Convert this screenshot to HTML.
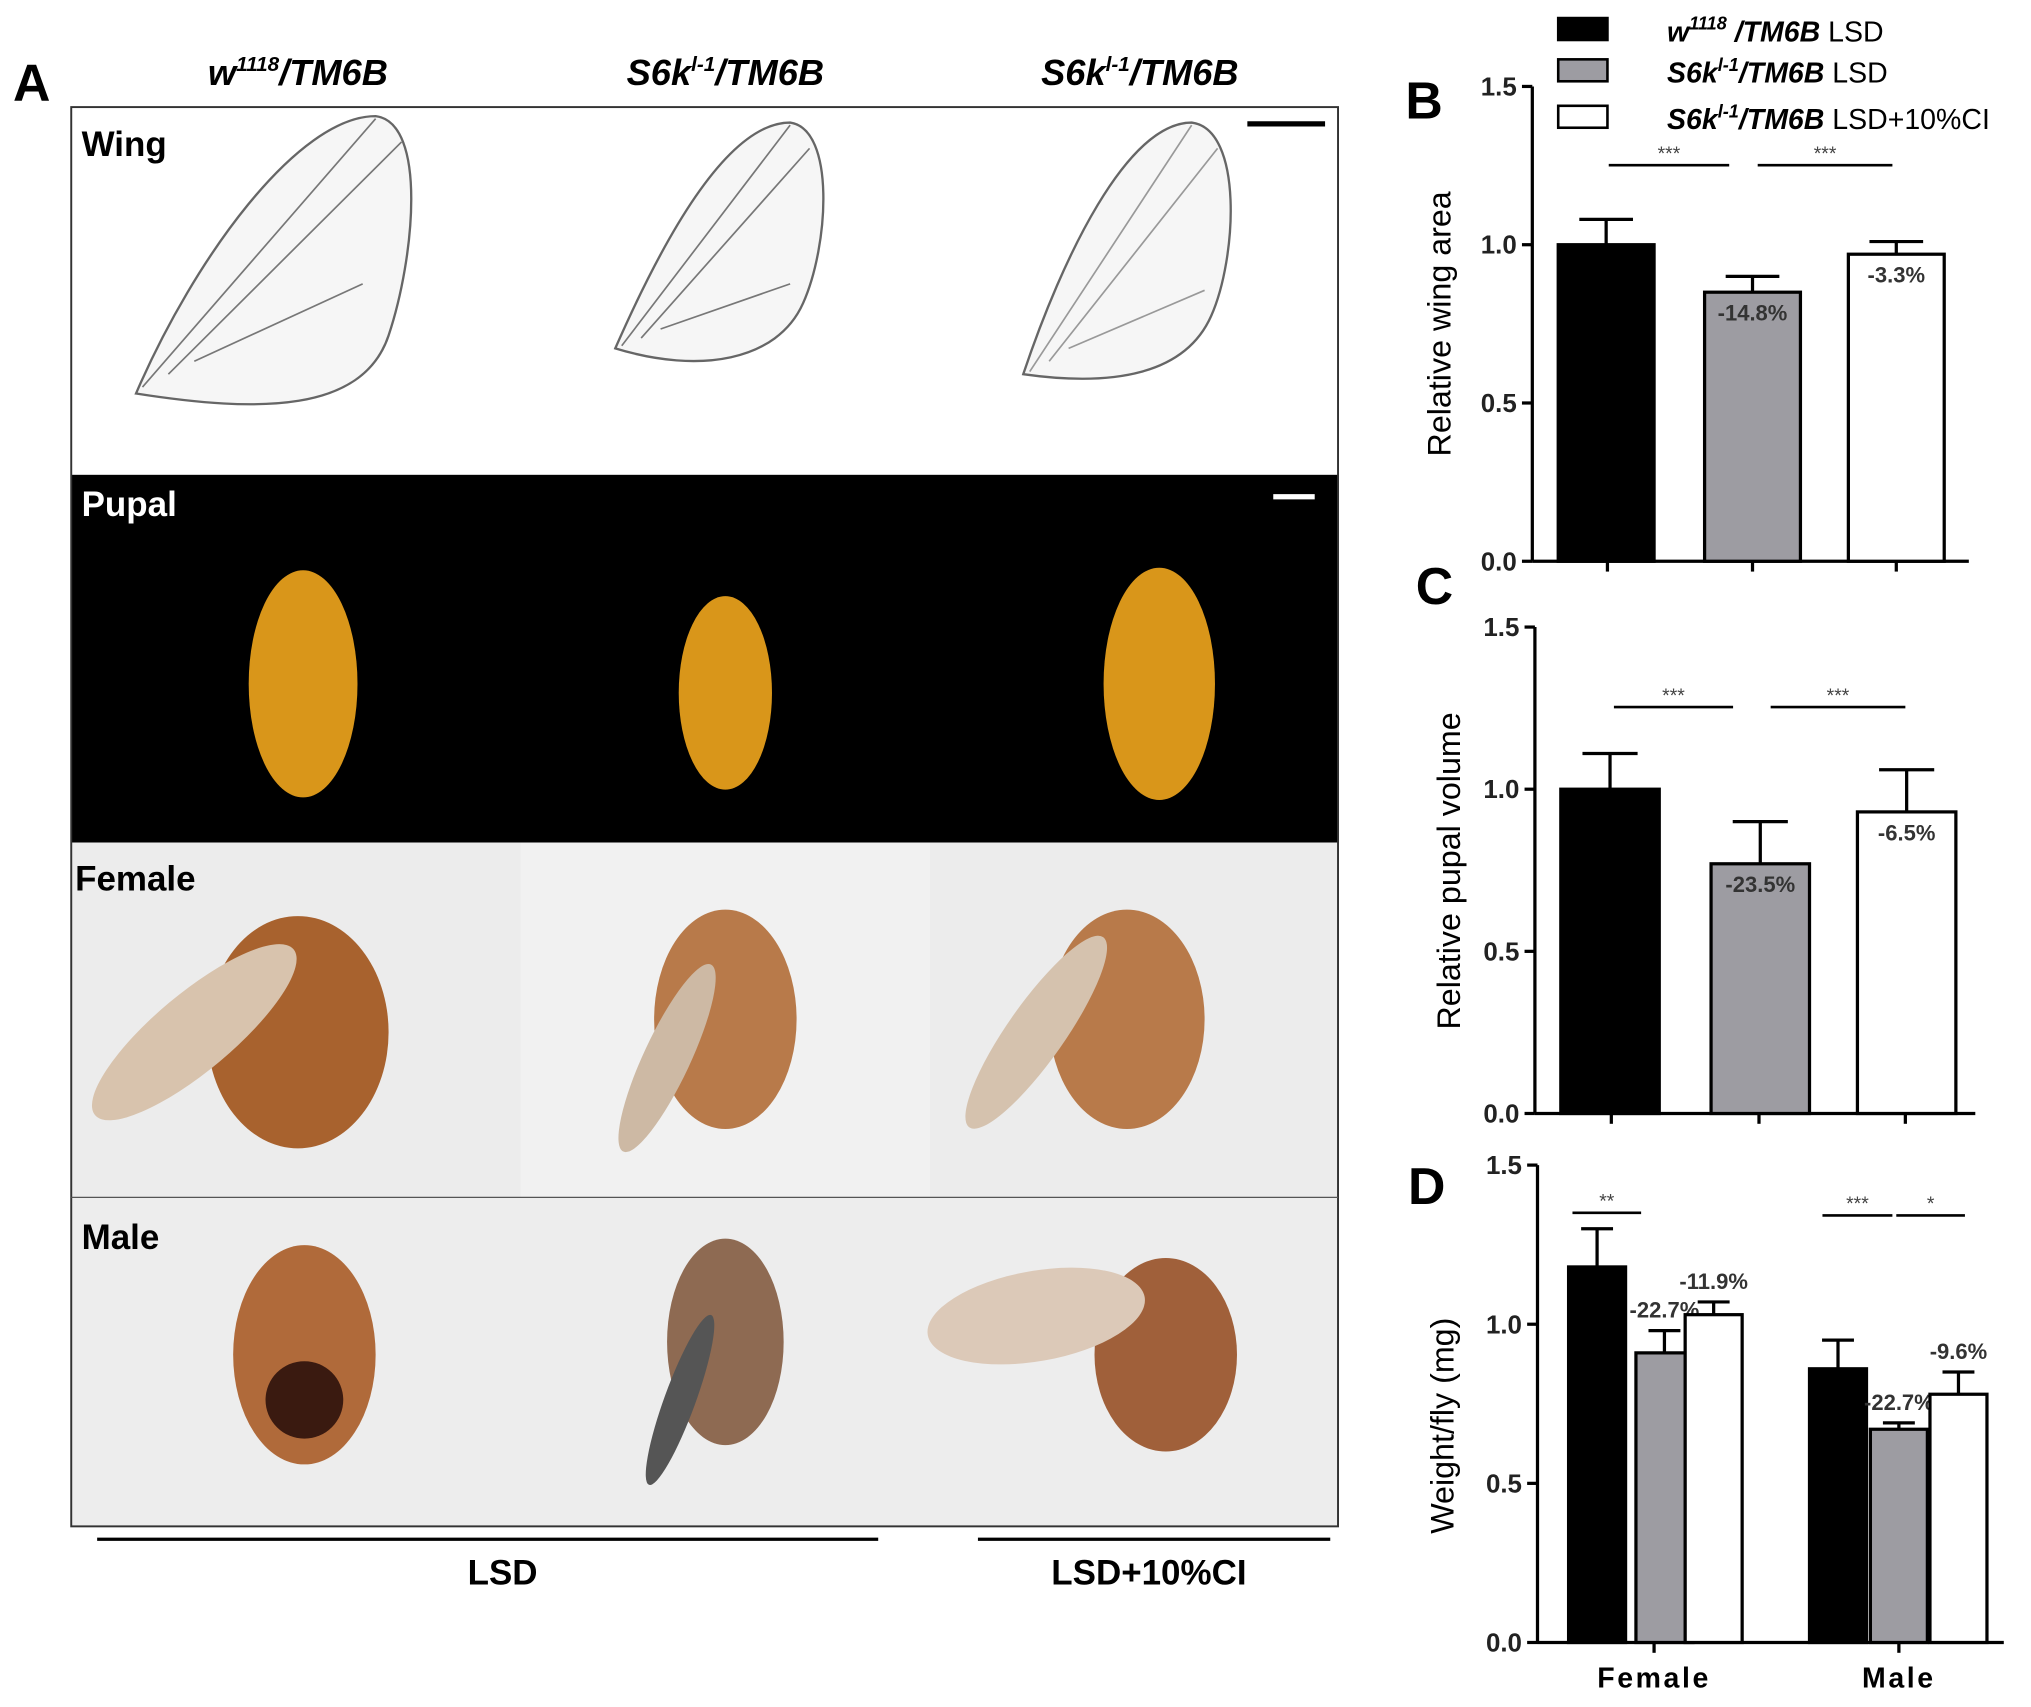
<!DOCTYPE html>
<html><head><meta charset="utf-8"><style>
html,body{margin:0;padding:0;background:#fff;}
svg{display:block;}
text{font-family:"Liberation Sans",Arial,sans-serif;}
</style></head><body>
<svg id="fig" width="2031" height="1707" viewBox="0 0 1568 1323" preserveAspectRatio="none" xmlns="http://www.w3.org/2000/svg">
<rect width="1568" height="1323" fill="#fff"/>
<g>
<text x="10" y="78" font-size="40" font-weight="bold">A</text>
<text x="230" y="66" font-size="28" font-weight="bold" font-style="italic" text-anchor="middle">w<tspan font-size="16" dy="-11">1118</tspan><tspan dy="11">/TM6B</tspan></text>
<text x="560" y="66" font-size="28" font-weight="bold" font-style="italic" text-anchor="middle">S6k<tspan font-size="16" dy="-11">l-1</tspan><tspan dy="11">/TM6B</tspan></text>
<text x="880" y="66" font-size="28" font-weight="bold" font-style="italic" text-anchor="middle">S6k<tspan font-size="16" dy="-11">l-1</tspan><tspan dy="11">/TM6B</tspan></text>
<rect x="55" y="83" width="978" height="285" fill="#fff"/>
<g fill="#f6f6f6" stroke="#666" stroke-width="1.8">
<path d="M105 305 C150 200 230 90 290 90 C330 95 320 200 300 260 C280 320 200 320 105 305Z"/>
<path d="M475 270 C510 190 560 95 610 95 C645 100 640 190 620 235 C600 280 540 290 475 270Z"/>
<path d="M790 290 C820 200 870 95 920 95 C960 100 955 200 935 245 C915 290 860 300 790 290Z"/>
<path d="M110 300 L290 92 M130 290 L310 110 M150 280 L280 220" fill="none" stroke="#777" stroke-width="1.3"/>
<path d="M480 268 L610 97 M495 262 L625 115 M510 255 L610 220" fill="none" stroke="#777" stroke-width="1.3"/>
<path d="M795 288 L920 97 M810 280 L940 115 M825 270 L930 225" fill="none" stroke="#999" stroke-width="1.3"/>
</g>
<line x1="963" y1="96" x2="1023" y2="96" stroke="#000" stroke-width="4"/>
<text x="63" y="121" font-size="27" font-weight="bold">Wing</text>
<rect x="55" y="368" width="978" height="285" fill="#000"/>
<g fill="#d9961a">
<ellipse cx="234" cy="530" rx="42" ry="88"/>
<ellipse cx="560" cy="537" rx="36" ry="75"/>
<ellipse cx="895" cy="530" rx="43" ry="90"/>
</g>
<line x1="983" y1="385" x2="1015" y2="385" stroke="#fff" stroke-width="4"/>
<text x="63" y="400" font-size="27" font-weight="bold" fill="#fff">Pupal</text>
<rect x="55" y="653" width="978" height="275" fill="#ececec"/>
<rect x="402" y="653" width="316" height="275" fill="#f1f1f1"/>
<g>
<ellipse cx="230" cy="800" rx="70" ry="90" fill="#a8622e"/><ellipse cx="150" cy="800" rx="100" ry="30" transform="rotate(-40 150 800)" fill="#d8c3ad"/>
<ellipse cx="560" cy="790" rx="55" ry="85" fill="#b87a4a"/><ellipse cx="515" cy="820" rx="80" ry="18" transform="rotate(-65 515 820)" fill="#cdb9a4"/>
<ellipse cx="870" cy="790" rx="60" ry="85" fill="#b87a4a"/><ellipse cx="800" cy="800" rx="90" ry="22" transform="rotate(-55 800 800)" fill="#d5c2ae"/>
</g>
<text x="58" y="690" font-size="27" font-weight="bold">Female</text>
<rect x="55" y="928" width="978" height="255" fill="#ededed"/>
<g>
<ellipse cx="235" cy="1050" rx="55" ry="85" fill="#b06a3a"/><ellipse cx="235" cy="1085" rx="30" ry="30" fill="#3a1a10"/>
<ellipse cx="560" cy="1040" rx="45" ry="80" fill="#8e6a52"/><ellipse cx="525" cy="1085" rx="70" ry="12" transform="rotate(-70 525 1085)" fill="#555"/>
<ellipse cx="900" cy="1050" rx="55" ry="75" fill="#a0603a"/><ellipse cx="800" cy="1020" rx="85" ry="35" transform="rotate(-10 800 1020)" fill="#dcc9b8"/>
</g>
<text x="63" y="968" font-size="27" font-weight="bold">Male</text>
<rect x="55" y="83" width="978" height="1100" fill="none" stroke="#333" stroke-width="1.5"/>
<line x1="55" y1="928" x2="1033" y2="928" stroke="#555" stroke-width="1"/>
<line x1="75" y1="1193" x2="678" y2="1193" stroke="#000" stroke-width="2.5"/>
<line x1="755" y1="1193" x2="1027" y2="1193" stroke="#000" stroke-width="2.5"/>
<text x="388" y="1228" font-size="27" font-weight="bold" text-anchor="middle">LSD</text>
<text x="887" y="1228" font-size="27" font-weight="bold" text-anchor="middle">LSD+10%CI</text>
</g>
<g>
<rect x="1203" y="14" width="38" height="17" fill="#000" stroke="#000" stroke-width="2"/>
<text x="1287" y="32" font-size="22"><tspan font-weight="bold" font-style="italic">w<tspan font-size="14" dy="-9">1118</tspan><tspan dy="9"> /TM6B</tspan></tspan> LSD</text>
<rect x="1203" y="46" width="38" height="17" fill="#9d9ca2" stroke="#000" stroke-width="2"/>
<text x="1287" y="64" font-size="22"><tspan font-weight="bold" font-style="italic">S6k<tspan font-size="14" dy="-9">l-1</tspan><tspan dy="9">/TM6B</tspan></tspan> LSD</text>
<rect x="1203" y="82" width="38" height="17" fill="#fff" stroke="#000" stroke-width="2"/>
<text x="1287" y="100" font-size="22"><tspan font-weight="bold" font-style="italic">S6k<tspan font-size="14" dy="-9">l-1</tspan><tspan dy="9">/TM6B</tspan></tspan> LSD+10%CI</text>
</g>
<g id="charts"></g>
</svg>
<script>
// Chart B: relative wing area
const bValues = [1.0, 0.85, 0.97];
const bErrors = [0.08, 0.05, 0.04];
const bLabels = ["", "-14.8%", "-3.3%"];
// Chart C: relative pupal volume
const cValues = [1.0, 0.77, 0.93];
const cErrors = [0.11, 0.13, 0.13];
const cLabels = ["", "-23.5%", "-6.5%"];
// Chart D: weight per fly
const dCategories = ["Female", "Male"];
const dFemale = [1.18, 0.91, 1.03];
const dFemaleErr = [0.12, 0.07, 0.04];
const dMale = [0.86, 0.67, 0.78];
const dMaleErr = [0.09, 0.02, 0.07];
const dFemaleLabels = ["", "-22.7%", "-11.9%"];
const dMaleLabels = ["", "-22.7%", "-9.6%"];
const yTicks = [0.0, 0.5, 1.0, 1.5];
const tickLabels = ["0.0", "0.5", "1.0", "1.5"];
const fills = ["#000", "#9d9ca2", "#fff"];

const NS = "http://www.w3.org/2000/svg";
const root = document.getElementById("charts");
function el(tag, attrs, parent) {
  const e = document.createElementNS(NS, tag);
  for (const k in attrs) e.setAttribute(k, attrs[k]);
  (parent || root).appendChild(e);
  return e;
}
function makeAxis(g, x0, yTop, yBot, xEnd) {
  const y = v => yBot - (yBot - yTop) * v / 1.5;
  el("line", {x1: x0, y1: yTop, x2: x0, y2: yBot, stroke: "#000", "stroke-width": 2.5}, g);
  el("line", {x1: x0, y1: yBot, x2: xEnd, y2: yBot, stroke: "#000", "stroke-width": 2.5}, g);
  yTicks.forEach((t, i) => {
    el("line", {x1: x0 - 8, y1: y(t), x2: x0, y2: y(t), stroke: "#000", "stroke-width": 2.5}, g);
    const tx = el("text", {x: x0 - 12, y: y(t) + 7, "font-size": 20, "font-weight": "bold", "text-anchor": "end", fill: "#222"}, g);
    tx.textContent = tickLabels[i];
    
    
  });
  return y;
}
function drawBar(g, y, xl, w, v, e, fill, label, labelAbove) {
  const r = el("rect", {x: xl, y: y(v), width: w, height: y(0) - y(v), fill: fill, stroke: "#000", "stroke-width": 2.5}, g);
  
  
  const cx = xl + w / 2;
  el("line", {x1: cx, y1: y(v), x2: cx, y2: y(v + e), stroke: "#000", "stroke-width": 2.5}, g);
  el("line", {x1: cx - w * 0.28, y1: y(v + e), x2: cx + w * 0.28, y2: y(v + e), stroke: "#000", "stroke-width": 2.5}, g);
  if (label) {
    const t = el("text", {x: cx, y: labelAbove ? y(v + e) - 10 : y(v) + 22, "font-size": 17, "font-weight": "bold", "text-anchor": "middle", fill: "#333"}, g);
    t.textContent = label;
    
    
  }
}
function sig(g, x1, x2, yy, s) {
  el("line", {x1: x1, y1: yy, x2: x2, y2: yy, stroke: "#000", "stroke-width": 2}, g);
  const t = el("text", {x: (x1 + x2) / 2, y: yy - 4, "font-size": 15, "text-anchor": "middle", fill: "#444"}, g);
  t.textContent = s;
  
  
}
function panelLetter(g, txt, x, yy) {
  const t = el("text", {x: x, y: yy, "font-size": 40, "font-weight": "bold"}, g);
  t.textContent = txt;
  
  
}
function yTitle(g, txt, x, yy) {
  const t = el("text", {x: x, y: yy, "font-size": 25, "text-anchor": "middle", transform: "rotate(-90 " + x + " " + yy + ")"}, g);
  t.textContent = txt;
  
  
}

const gB = el("g", {});


panelLetter(gB, "B", 1085, 92);
yTitle(gB, "Relative wing area", 1120, 251);
const yB = makeAxis(gB, 1183, 67, 435, 1520);
const bX = [1203, 1316, 1427];
bValues.forEach((v, i) => drawBar(gB, yB, bX[i], 74, v, bErrors[i], fills[i], bLabels[i], false));
[1241, 1353, 1464].forEach(x => el("line", {x1: x, y1: 435, x2: x, y2: 443, stroke: "#000", "stroke-width": 2.5}, gB));
sig(gB, 1242, 1335, 128, "***");
sig(gB, 1357, 1461, 128, "***");

const gC = el("g", {});


panelLetter(gC, "C", 1093, 468);
yTitle(gC, "Relative pupal volume", 1127, 675);
const yC = makeAxis(gC, 1185, 486, 863, 1525);
const cX = [1205, 1321, 1434];
cValues.forEach((v, i) => drawBar(gC, yC, cX[i], 76, v, cErrors[i], fills[i], cLabels[i], false));
[1244, 1358, 1471].forEach(x => el("line", {x1: x, y1: 863, x2: x, y2: 871, stroke: "#000", "stroke-width": 2.5}, gC));
sig(gC, 1246, 1338, 548, "***");
sig(gC, 1367, 1471, 548, "***");

const gD = el("g", {});


panelLetter(gD, "D", 1087, 933);
yTitle(gD, "Weight/fly (mg)", 1122, 1105);
const yD = makeAxis(gD, 1187, 903, 1273, 1547);
const fX = [1211, 1263, 1301], mX = [1397, 1444, 1490], bw = 44;
dFemale.forEach((v, i) => drawBar(gD, yD, fX[i], bw, v, dFemaleErr[i], fills[i], dFemaleLabels[i], true));
dMale.forEach((v, i) => drawBar(gD, yD, mX[i], bw, v, dMaleErr[i], fills[i], dMaleLabels[i], true));
const catX = [1277, 1466];
dCategories.forEach((c, i) => {
  el("line", {x1: catX[i], y1: 1273, x2: catX[i], y2: 1281, stroke: "#000", "stroke-width": 2.5}, gD);
  const t = el("text", {x: catX[i], y: 1308, "font-size": 22, "font-weight": "bold", "text-anchor": "middle", "letter-spacing": 2}, gD);
  t.textContent = c;
  
  
});
sig(gD, 1214, 1267, 940, "**");
sig(gD, 1407, 1461, 942, "***");
sig(gD, 1464, 1517, 942, "*");
</script>
</body></html>
